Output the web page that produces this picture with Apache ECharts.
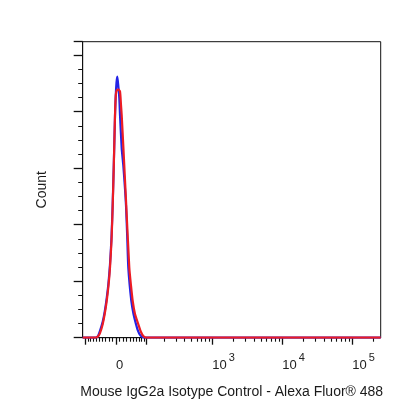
<!DOCTYPE html>
<html>
<head>
<meta charset="utf-8">
<script src="https://cdn.jsdelivr.net/npm/echarts@6.0.0/dist/echarts.min.js"></script>
<style>
html,body{margin:0;padding:0;background:#fff;}
#chart{width:416px;height:416px;}
</style>
</head>
<body>
<div id="chart"></div>
<script>
// ---- data (x in display channels 0..1024 of a biexponential axis, y in counts) ----
const blueX = [0, 44.0, 49.1, 53.6, 59.4, 68.7, 75.6, 82.5, 88.6, 93.8, 99.0, 103.1, 106.9, 111.0, 113.7, 116.2, 118.9, 122.0, 125.8, 128.2, 134.0, 139.5, 145.3, 148.8, 152.9, 156.7, 167.0, 174.5, 183.1, 190.0, 196.9, 205.5, 210.6, 1024];
const blueY = [0, 0, 1, 4, 12, 28, 46, 70, 97, 130, 178, 238, 308, 392, 430, 452, 462, 448, 424, 394, 335, 305, 264, 234, 180, 124, 65, 42, 24, 12, 5, 1, 0, 0];
const redX = [0, 42.3, 49.1, 53.6, 59.4, 68.7, 75.6, 82.5, 88.6, 93.8, 99.0, 103.1, 106.9, 111.0, 113.7, 117.2, 123.0, 128.2, 131.6, 134.0, 140.2, 148.8, 160.1, 166.0, 171.8, 179.7, 191.0, 200.3, 208.2, 217.5, 1024];
const redY = [0, 0, 1, 3, 8, 24, 42, 65, 92, 124, 172, 234, 305, 394, 429, 438, 439, 436, 412, 394, 332, 243, 124, 92, 65, 42, 24, 10, 3, 0, 0];

// axis tick values (fluorescence intensity)
const xMajorTickValues = [-100, 0, 100, 1000, 10000, 100000];
const xMinorTickValues = [-90, -80, -70, -60, -50, -40, -30, -20, -10, 10, 20, 30, 40, 50, 60, 70, 80, 90,
  200, 300, 400, 500, 600, 700, 800, 900,
  2000, 3000, 4000, 5000, 6000, 7000, 8000, 9000,
  20000, 30000, 40000, 50000, 60000, 70000, 80000, 90000, 200000];
const xLabelValues = [0, 1000, 10000, 100000];
const xLabelTexts = ['{n|0}', '{n|10}{e|3}', '{n|10}{e|4}', '{n|10}{e|5}'];

const xTitle = 'Mouse IgG2a Isotype Control - Alexa Fluor\u00ae 488';
const yTitle = 'Count';

// biexponential (arcsinh) display scale: intensity -> channel
const CH0 = 114.4, CHB = 104.5, CHW = 84.5;
function channel(v) { return CH0 + CHB * Math.asinh(v / CHW); }

const labelMap = {};
xLabelValues.forEach((v, i) => { labelMap[channel(v).toFixed(4)] = xLabelTexts[i]; });

const chart = echarts.init(document.getElementById('chart'), null, {renderer: 'canvas'});
const axisColor = '#111';
chart.setOption({
  animation: false,
  backgroundColor: '#fff',
  grid: {left: 82.7, right: 35.3, top: 41.7, bottom: 78.3, show: true, borderColor: axisColor, borderWidth: 1},
  xAxis: [{
    type: 'value', min: 0, max: 1024, position: 'bottom',
    axisLine: {show: true, onZero: false, lineStyle: {color: axisColor, width: 1}},
    axisTick: {show: true, length: 7, customValues: xMajorTickValues.map(channel), lineStyle: {color: axisColor, width: 1.3}},
    axisLabel: {
      show: true, margin: 21, align: 'left', color: '#222',
      customValues: xLabelValues.map(channel),
      formatter: (val) => labelMap[Number(val).toFixed(4)] || '',
      rich: {
        n: {fontFamily: 'Liberation Sans, Arial', fontSize: 13, color: '#222', lineHeight: 13, padding: [7, 0, 0, 0], verticalAlign: 'bottom'},
        e: {fontFamily: 'Liberation Sans, Arial', fontSize: 11, color: '#222', lineHeight: 12, padding: [0, 0, 8, 2], verticalAlign: 'bottom'}
      }
    },
    splitLine: {show: false},
    name: xTitle, nameLocation: 'middle', nameGap: 47,
    nameTextStyle: {fontFamily: 'Liberation Sans, Arial', fontSize: 14, color: '#1a1a1a'}
  }, {
    type: 'value', min: 0, max: 1024, position: 'bottom',
    axisLine: {show: false},
    axisTick: {show: true, length: 4, customValues: xMinorTickValues.map(channel), lineStyle: {color: axisColor, width: 1.1}},
    axisLabel: {show: false},
    splitLine: {show: false}
  }],
  yAxis: {
    type: 'value', min: 0, max: 524, interval: 100,
    axisLine: {show: true, lineStyle: {color: axisColor, width: 1}},
    axisTick: {show: true, length: 9, lineStyle: {color: axisColor, width: 1.3}},
    minorTick: {show: true, splitNumber: 4, length: 4.5, lineStyle: {color: axisColor, width: 1}},
    axisLabel: {show: false},
    splitLine: {show: false},
    name: yTitle, nameLocation: 'middle', nameGap: 34,
    nameTextStyle: {fontFamily: 'Liberation Sans, Arial', fontSize: 14, color: '#1a1a1a'}
  },
  series: [{
    type: 'line', name: 'Isotype (blue)', xAxisIndex: 0,
    data: blueX.map((x, i) => [x, blueY[i]]),
    showSymbol: false, smooth: 0.2,
    lineStyle: {color: '#2323e6', width: 2.2}
  }, {
    type: 'line', name: 'Isotype (red)', xAxisIndex: 0,
    data: redX.map((x, i) => [x, redY[i]]),
    showSymbol: false, smooth: 0.2,
    lineStyle: {color: '#ec1c24', width: 2.2}
  }]
});
</script>
</body>
</html>
